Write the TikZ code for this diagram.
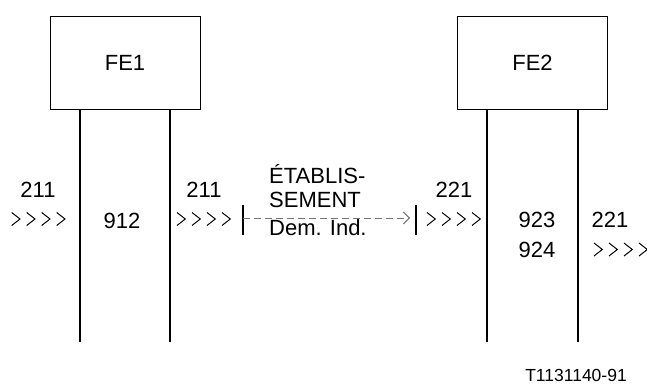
\documentclass[tikz,border=0pt]{standalone}
\usepackage{fontspec}
\setmainfont{Liberation Sans}
\usetikzlibrary{arrows.meta}
\begin{document}
\begin{tikzpicture}[x=1pt,y=-1pt,
  txt/.style={font=\fontsize{22}{26}\selectfont},
  box/.style={draw, line width=0.8pt, minimum width=150pt, minimum height=93pt, inner sep=0pt, txt},
  life/.style={line width=2pt},
  barline/.style={line width=1.6pt},
  lbl/.style={txt, inner sep=0pt, anchor=base},
  lblw/.style={txt, inner sep=0pt, anchor=base west},
  dashline/.style={black!55, line width=1pt, dash pattern=on 7pt off 4pt, shorten >=6pt,
    -{Straight Barb[length=6pt,width=12pt,line width=1pt]}},
  chevs/.pic={\foreach \i in {0,1,2,3}
      \draw[line width=1pt] (\i*15,-6.5) -- (\i*15+8.3,0) -- (\i*15,6.5);}
]
\useasboundingbox (0,0) rectangle (647,385);

% functional entities
\node[box] (fe1) at (125,62.5) {FE1};
\node[box] (fe2) at (532.5,62.5) {FE2};

% lifeline ends
\coordinate (l1) at (80,342);
\coordinate (l2) at (170,342);
\coordinate (l3) at (487,342);
\coordinate (l4) at (578,342);
\draw[life] (fe1.south -| l1) -- (l1);
\draw[life] (fe1.south -| l2) -- (l2);
\draw[life] (fe2.south -| l3) -- (l3);
\draw[life] (fe2.south -| l4) -- (l4);

% bars and dashed flow
\coordinate (b1) at (243,218);
\coordinate (b2) at (416,218);
\draw[barline] (243,205) -- (243,235);
\draw[barline] (416,205) -- (416,235);
\draw[dashline] (b1) -- (b2);

% chevrons
\pic at (11.7,219) {chevs};
\pic at (177,219) {chevs};
\pic at (427,219) {chevs};
\pic at (594,249.5) {chevs};

% labels
\node[lbl] (t1) at (38,197) {211};
\node[lbl] (t2) at (122,228) {912};
\node[lbl] (t3) at (204,197) {211};
\node[lblw] (t4) at (269,183) {ÉTABLIS-};
\node[lblw] (t5) at (269,207) {SEMENT};
\node[lblw] (t6) at (269,235) {Dem. Ind.};
\node[lbl] (t7) at (454,197) {221};
\node[lbl] (t8) at (537,227) {923};
\node[lbl] (t9) at (537,257) {924};
\node[lbl] (t10) at (610,227) {221};
\node[inner sep=0pt, anchor=base, font=\fontsize{17.5}{21}\selectfont] (ref) at (576,381.5) {T1131140-91};
\end{tikzpicture}
\end{document}
